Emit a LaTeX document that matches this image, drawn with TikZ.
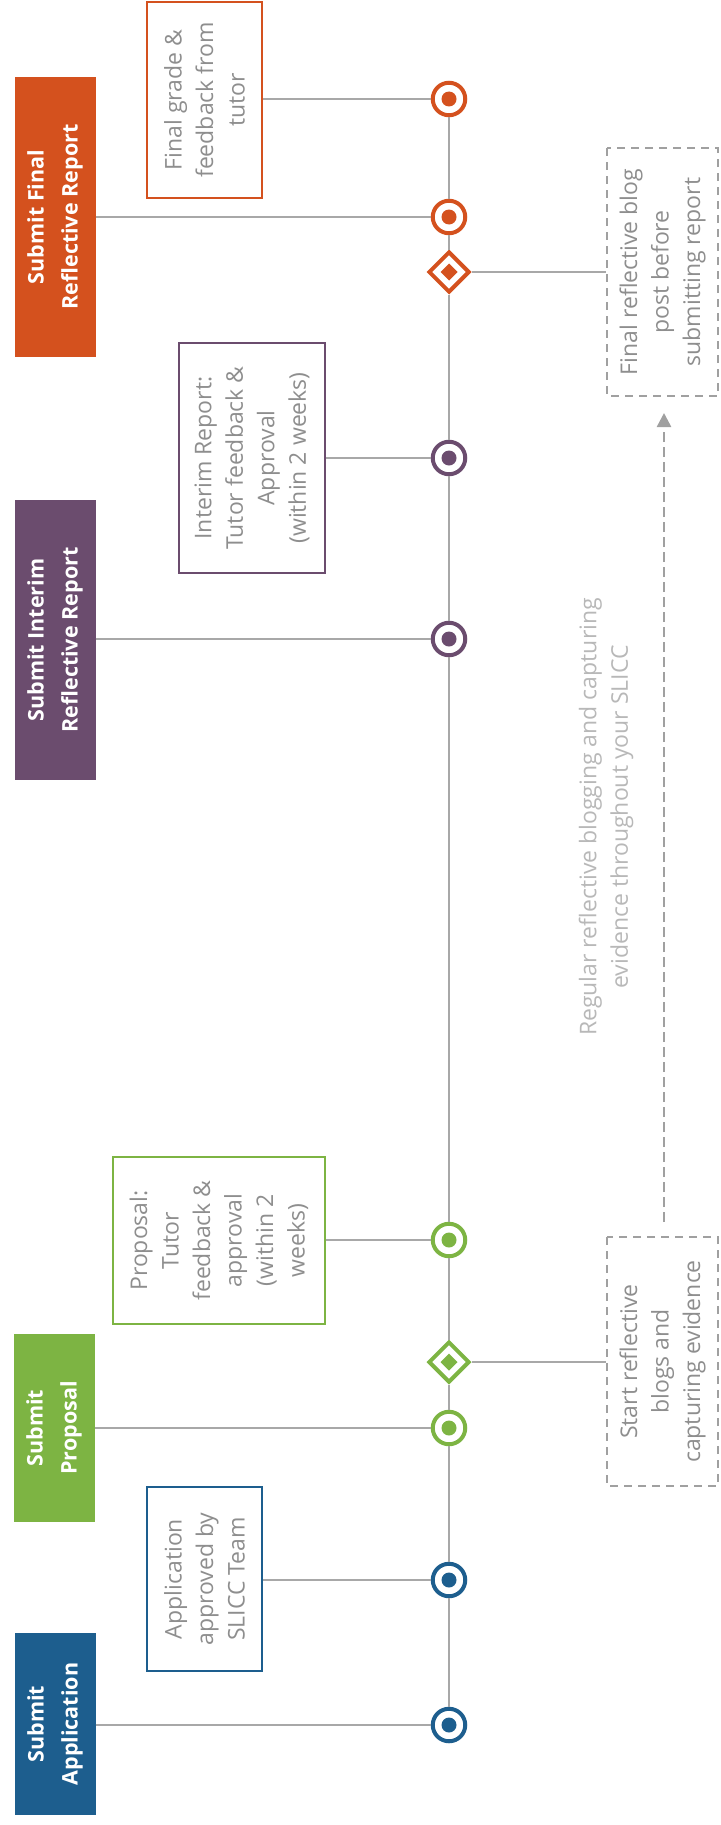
\documentclass[tikz,border=0pt]{standalone}
\usepackage{fontspec}
\setmainfont{Open Sans}
\usetikzlibrary{shapes.geometric,arrows.meta}
\definecolor{corange}{HTML}{D4511E}
\definecolor{cpurple}{HTML}{6B4C6E}
\definecolor{cgreen}{HTML}{7DB443}
\definecolor{cblue}{HTML}{1D5E8E}
\definecolor{cline}{HTML}{A8A8A8}
\definecolor{ctext}{HTML}{8E8E8E}
\definecolor{clight}{HTML}{B8B8B8}
\definecolor{cdash}{HTML}{A0A0A0}
\begin{document}
\begin{tikzpicture}[x=1pt,y=-1pt,
  txt/.style={font=\fontsize{23}{31.5}\selectfont, align=center, rotate=90, inner sep=0pt},
  filledbox/.style={txt, fill=#1, text=white, minimum height=81pt, font=\fontsize{21.5}{34}\selectfont\bfseries},
  outbox/.style={txt, draw=#1, line width=2.5pt, text=ctext, fill=white},
  dashbox/.style={txt, draw=cdash, line width=2pt, dash pattern=on 8pt off 6pt, text=ctext, minimum height=111pt},
  ring/.style={circle, draw=#1, line width=4pt, fill=white, minimum size=32.5pt, inner sep=0pt,
    path picture={\fill[#1] (path picture bounding box.center) circle (7.5pt);}},
  rhomb/.style={diamond, aspect=1, draw=#1, line width=4pt, fill=white, minimum width=41pt, minimum height=41pt, inner sep=0pt,
    path picture={\fill[#1, shift={(path picture bounding box.center)}] (0,8.5)--(8.5,0)--(0,-8.5)--(-8.5,0)--cycle;}},
  conn/.style={draw=cline, line width=2.5pt},
  axis/.style={draw=cline, line width=2.5pt}
]
\useasboundingbox (0,0) rectangle (720,1825);

% left filled boxes
\node[filledbox=corange, minimum width=280pt] (sFinal) at (55,217) {Submit Final\\Reflective Report};
\node[filledbox=cpurple, minimum width=280pt] (sInterim) at (55,640) {Submit Interim\\Reflective Report};
\node[filledbox=cgreen, minimum width=188pt] (sProp) at (54,1428) {Submit\\Proposal};
\node[filledbox=cblue, minimum width=182pt] (sApp) at (55,1724) {Submit\\Application};

% outlined feedback boxes
\node[outbox=corange, minimum width=196pt, minimum height=115pt] (fGrade) at (204.5,100) {Final grade \&\\feedback from\\tutor};
\node[outbox=cpurple, minimum width=230pt, minimum height=146pt] (fInterim) at (252,458) {Interim Report:\\Tutor feedback \&\\Approval\\(within 2 weeks)};
\node[outbox=cgreen, minimum width=167pt, minimum height=212pt] (fProp) at (219,1240.5) {Proposal:\\Tutor\\feedback \&\\approval\\(within 2\\weeks)};
\node[outbox=cblue, minimum width=184pt, minimum height=115pt] (fApp) at (204.5,1579) {Application\\approved by\\SLICC Team};

% dashed boxes
\node[dashbox, minimum width=248pt] (bFinal) at (662.5,272) {Final reflective blog\\post before\\submitting report};
\node[dashbox, minimum width=249pt] (bStart) at (662.5,1361.5) {Start reflective\\blogs and\\capturing evidence};

% regular text
\node[txt, text=clight] (reg) at (606,817) {Regular reflective blogging and capturing\\evidence throughout your SLICC};

% markers
\node[ring=corange] (m1) at (449,99) {};
\node[ring=corange] (m2) at (449,217) {};
\node[rhomb=corange] (d1) at (449,272) {};
\node[ring=cpurple] (m3) at (449,458) {};
\node[ring=cpurple] (m4) at (449,639) {};
\node[ring=cgreen] (m5) at (449,1240) {};
\node[rhomb=cgreen] (d2) at (449,1362) {};
\node[ring=cgreen] (m6) at (449,1428) {};
\node[ring=cblue] (m7) at (449,1580) {};
\node[ring=cblue] (m8) at (449,1725) {};

% axis
\draw[axis] (m1) -- (m2);
\draw[axis] (m2) -- (d1);
\draw[axis] (d1) -- (m3);
\draw[axis] (m3) -- (m4);
\draw[axis] (m4) -- (m5);
\draw[axis] (m5) -- (d2);
\draw[axis] (d2) -- (m6);
\draw[axis] (m6) -- (m7);
\draw[axis] (m7) -- (m8);

% connectors
\draw[conn] (fGrade.south |- m1) -- (m1);
\draw[conn] (sFinal.south |- m2) -- (m2);
\draw[conn] (d1) -- (d1 -| bFinal.north);
\draw[conn] (fInterim.south |- m3) -- (m3);
\draw[conn] (sInterim.south |- m4) -- (m4);
\draw[conn] (fProp.south |- m5) -- (m5);
\draw[conn] (d2) -- (d2 -| bStart.north);
\draw[conn] (sProp.south |- m6) -- (m6);
\draw[conn] (fApp.south |- m7) -- (m7);
\draw[conn] (sApp.south |- m8) -- (m8);

% dashed arrow
\coordinate (aS) at (664,1222);
\coordinate (aE) at (664,413);
\draw[draw=cdash, line width=2.5pt, dash pattern=on 10pt off 5pt, -{Triangle[length=14pt,width=14pt]}] (aS) -- (aE);
\end{tikzpicture}
\end{document}
